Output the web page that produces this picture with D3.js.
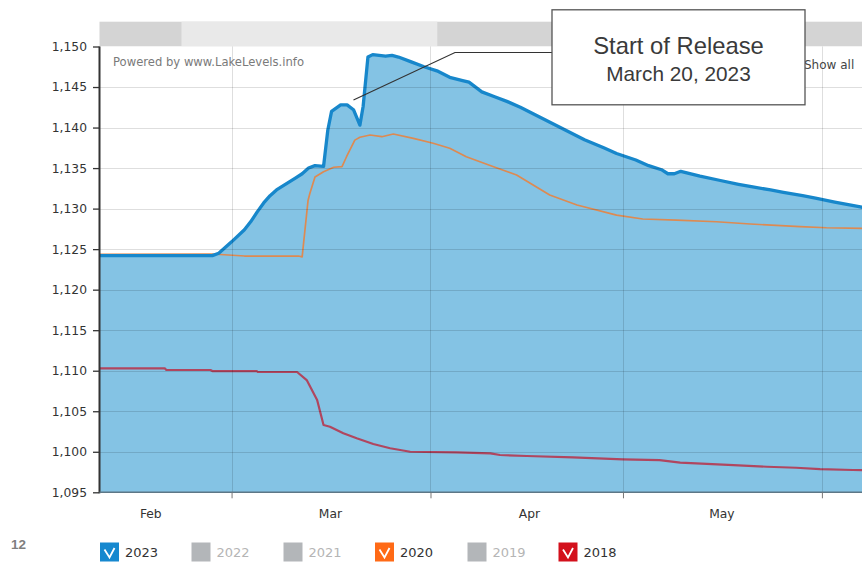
<!DOCTYPE html>
<html><head><meta charset="utf-8">
<script src="https://cdn.jsdelivr.net/npm/d3@7"></script>
<style>
html,body{margin:0;padding:0;background:#fff;}
svg{display:block;}
</style></head>
<body>
<svg id="chart" width="862" height="563"></svg>
<script>
// ---------------- DATA ----------------
const yTicks = [1095,1100,1105,1110,1115,1120,1125,1130,1135,1140,1145,1150];
const monthNames = ["Feb","Mar","Apr","May"];
const monthLabelDates = ["2023-02-16T08","2023-03-16T08","2023-04-16T08","2023-05-16T08"];
const monthTickDates = ["2023-03-01","2023-04-01","2023-05-01","2023-06-01"];

const dates2023 = ["2023-02-08","2023-02-26","2023-02-27","2023-03-01","2023-03-03","2023-03-04","2023-03-05","2023-03-06","2023-03-07","2023-03-08","2023-03-09","2023-03-11","2023-03-12","2023-03-13","2023-03-14","2023-03-15T08","2023-03-16","2023-03-16T14","2023-03-18","2023-03-19","2023-03-20","2023-03-21","2023-03-21T12","2023-03-22T06","2023-03-23","2023-03-24","2023-03-25","2023-03-26","2023-03-27","2023-03-29","2023-03-31","2023-04-02","2023-04-04","2023-04-06","2023-04-07","2023-04-09","2023-04-11","2023-04-13","2023-04-15","2023-04-18","2023-04-20","2023-04-23","2023-04-25","2023-04-28","2023-04-30","2023-05-03","2023-05-05","2023-05-07","2023-05-08","2023-05-09","2023-05-10","2023-05-13","2023-05-16","2023-05-19","2023-05-21","2023-05-24","2023-05-26","2023-05-29","2023-05-31","2023-06-03","2023-06-07","2023-06-09"];
const levels2023 = [1124.2,1124.2,1124.5,1125.9,1127.4,1128.4,1129.6,1130.7,1131.6,1132.3,1132.8,1133.8,1134.3,1135.0,1135.3,1135.2,1139.7,1142.0,1142.8,1142.8,1142.2,1140.3,1142.6,1148.7,1149.0,1148.9,1148.8,1148.9,1148.7,1148.1,1147.5,1147.0,1146.2,1145.8,1145.6,1144.4,1143.8,1143.2,1142.5,1141.3,1140.5,1139.3,1138.5,1137.5,1136.8,1136.0,1135.3,1134.8,1134.3,1134.3,1134.6,1134.0,1133.5,1133.0,1132.7,1132.3,1132.0,1131.6,1131.3,1130.8,1130.2,1129.9];

const dates2020 = ["2023-02-08","2023-02-26","2023-03-03","2023-03-11T10","2023-03-12","2023-03-12T22","2023-03-13T05","2023-03-14","2023-03-15T08","2023-03-16T22","2023-03-18T05","2023-03-18T22","2023-03-20T05","2023-03-21","2023-03-22T14","2023-03-24T10","2023-03-26T05","2023-03-29T08","2023-04-01T10","2023-04-04","2023-04-06T14","2023-04-10T20","2023-04-14T10","2023-04-19T14","2023-04-23T20","2023-04-30","2023-05-04T02","2023-05-09T08","2023-05-15T14","2023-05-20T20","2023-05-28T14","2023-06-01T17","2023-06-09"];
const levels2020 = [1124.35,1124.4,1124.15,1124.15,1124.05,1131.0,1131.9,1133.9,1134.55,1135.1,1135.17,1136.4,1138.45,1138.8,1139.08,1138.87,1139.2,1138.67,1138.06,1137.44,1136.4,1135.17,1134.15,1131.68,1130.44,1129.2,1128.72,1128.59,1128.38,1128.1,1127.77,1127.64,1127.55];

const dates2018 = ["2023-02-08","2023-02-18T14","2023-02-18T20","2023-02-25T17","2023-02-26","2023-03-04T22","2023-03-05T02","2023-03-11T05","2023-03-12T17","2023-03-14T08","2023-03-15T08","2023-03-16T08","2023-03-18T10","2023-03-20T12","2023-03-23T02","2023-03-25T17","2023-03-28T20","2023-04-05T02","2023-04-10T08","2023-04-11T20","2023-04-16","2023-04-23T05","2023-05-01","2023-05-06T17","2023-05-09T22","2023-05-18T05","2023-05-23T10","2023-05-28","2023-05-31T17","2023-06-05T20","2023-06-09"];
const levels2018 = [1110.3,1110.3,1110.09,1110.09,1109.96,1109.96,1109.84,1109.84,1108.85,1106.38,1103.3,1103.09,1102.28,1101.66,1100.96,1100.43,1100.0,1099.93,1099.81,1099.6,1099.48,1099.31,1099.07,1098.98,1098.65,1098.36,1098.15,1098.03,1097.87,1097.75,1097.7];

const legendYears = ["2023","2022","2021","2020","2019","2018"];
const legendActive = [true,false,false,true,false,true];

const annotationTitle = "Start of Release";
const annotationDate = "March 20, 2023";
const annotationPoint = "2023-03-20";

// ---------------- SETUP ----------------
(function(){
const pDay = d3.utcParse("%Y-%m-%d"), pHour = d3.utcParse("%Y-%m-%dT%H");
const parse = s => s.length > 10 ? pHour(s) : pDay(s);

const svg = d3.select("#chart");
const pLeft = 99.5, pRight = 862, pTop = 46.5, pBottom = 492.3;

const x = d3.scaleUtc()
  .domain([pHour("2023-02-08T10"), pHour("2023-06-07T06")])
  .range([pLeft, pRight]);
const y = d3.scaleLinear().domain([1095, 1150]).range([pBottom, pTop]);

const s2023 = dates2023.map((d,i)=>({d:parse(d), v:levels2023[i]}));
const s2020 = dates2020.map((d,i)=>({d:parse(d), v:levels2020[i]}));
const s2018 = dates2018.map((d,i)=>({d:parse(d), v:levels2018[i]}));

// scrollbar / navigator band
const sbY = 21.7, sbH = pTop - sbY;
svg.append("rect").attr("x", pLeft).attr("y", sbY).attr("width", pRight-pLeft).attr("height", sbH).attr("fill", "#d4d4d4");
svg.append("rect").attr("x", 181.5).attr("y", sbY).attr("width", 437.3-181.5).attr("height", sbH).attr("fill", "#e9e9e9");

// plot background
svg.append("defs").append("clipPath").attr("id","clip")
  .append("rect").attr("x", pLeft).attr("y", pTop).attr("width", pRight-pLeft).attr("height", pBottom-pTop);
svg.append("rect").attr("x", pLeft).attr("y", pTop).attr("width", pRight-pLeft).attr("height", pBottom-pTop).attr("fill","#fff");

const plot = svg.append("g").attr("clip-path","url(#clip)");

// area 2023
plot.append("path").datum(s2023)
  .attr("d", d3.area().x(d=>x(d.d)).y0(y(1095)).y1(d=>y(d.v)))
  .attr("fill", "#84c3e4");

// gridlines
const grid = svg.append("g");
grid.selectAll("line.h").data(yTicks.filter(t=>t>1095 && t<1150)).join("line")
  .attr("x1", pLeft).attr("x2", pRight).attr("y1", d=>Math.round(y(d))+0.5).attr("y2", d=>Math.round(y(d))+0.5)
  .attr("stroke", "rgba(0,0,0,0.13)").attr("stroke-width", 1);
grid.selectAll("line.v").data(monthTickDates).join("line")
  .attr("x1", d=>Math.round(x(parse(d)))+0.5).attr("x2", d=>Math.round(x(parse(d)))+0.5)
  .attr("y1", pTop).attr("y2", pBottom)
  .attr("stroke", "rgba(0,0,0,0.13)").attr("stroke-width", 1);

// watermark text
svg.append("text").attr("x", 113).attr("y", 66).text("Powered by www.LakeLevels.info")
  .attr("font-family","'DejaVu Sans', Verdana, sans-serif").attr("font-size", 11.6).attr("fill","#7a7a7a");

// lines
const line = d3.line().x(d=>x(d.d)).y(d=>y(d.v));
plot.append("path").datum(s2018).attr("d", line).attr("fill","none").attr("stroke","#b0465f").attr("stroke-width",2.2).attr("stroke-linejoin","round");
plot.append("path").datum(s2020).attr("d", line).attr("fill","none").attr("stroke","#dd8a52").attr("stroke-width",1.7).attr("stroke-linejoin","round");
plot.append("path").datum(s2023).attr("d", line).attr("fill","none").attr("stroke","#1787cb").attr("stroke-width",3.3).attr("stroke-linejoin","round");

// y axis
const yAxis = svg.append("g").attr("transform", `translate(${pLeft},0)`)
  .call(d3.axisLeft(y).tickValues(yTicks).tickFormat(d3.format(",")).tickSize(6.5).tickPadding(6));
yAxis.select(".domain").attr("stroke","#333").attr("stroke-width",2).attr("d", `M0,${pTop}V${pBottom+1}`);
yAxis.selectAll(".tick line").attr("stroke","#333").attr("stroke-width",1.3);
yAxis.selectAll(".tick text").attr("font-family","'DejaVu Sans', Verdana, sans-serif").attr("font-size",12.3).attr("fill","#333");

// x axis (month boundaries)
const xAxis = svg.append("g").attr("transform", `translate(0,${pBottom})`)
  .call(d3.axisBottom(x).tickValues(monthTickDates.map(parse)).tickFormat("").tickSize(6));
xAxis.select(".domain").attr("stroke","#5d7786").attr("stroke-width",1.4).attr("d", `M${pLeft},0H${pRight}`);
xAxis.selectAll(".tick line").attr("stroke","#777");

// month labels
const xLab = svg.append("g").attr("transform", `translate(0,${pBottom})`)
  .call(d3.axisBottom(x).tickValues(monthLabelDates.map(parse)).tickFormat((d,i)=>monthNames[i]).tickSize(0).tickPadding(17));
xLab.select(".domain").remove();
xLab.selectAll(".tick text").attr("font-family","'DejaVu Sans', Verdana, sans-serif").attr("font-size",12.3).attr("fill","#333");

// "Show all"
svg.append("text").attr("x", 804).attr("y", 68.5).text("Show all")
  .attr("font-family","'DejaVu Sans', Verdana, sans-serif").attr("font-size", 12).attr("fill","#444");

// annotation leader and box
const ax = x(parse(annotationPoint)), ay = 100;
svg.append("path").attr("d", `M${ax},${ay}L455,52.5H552`).attr("fill","none").attr("stroke","#333").attr("stroke-width",1.2);
svg.append("rect").attr("x", 552).attr("y", 9.8).attr("width", 253).attr("height", 95)
  .attr("fill","#fff").attr("stroke","#555").attr("stroke-width",1.3);
svg.append("text").attr("x", 678.5).attr("y", 53.5).attr("text-anchor","middle").text(annotationTitle)
  .attr("font-family","'Liberation Sans', Arial, sans-serif").attr("font-size", 23.8).attr("fill","#3a3a3a");
svg.append("text").attr("x", 678.5).attr("y", 80.5).attr("text-anchor","middle").text(annotationDate)
  .attr("font-family","'Liberation Sans', Arial, sans-serif").attr("font-size", 20.8).attr("fill","#3a3a3a");

// slide number
svg.append("text").attr("x", 11).attr("y", 549).text("12")
  .attr("font-family","'Liberation Sans', Arial, sans-serif").attr("font-weight","bold").attr("font-size", 13.5).attr("fill","#7f7f7f");

// legend
const legendX = [100, 191.5, 283.5, 375, 467.5, 558.5];
const legendColors = ["#1688cf","#b3b6b9","#b3b6b9","#ff6a16","#b3b6b9","#d3101c"];
const lg = svg.append("g");
legendYears.forEach((yr,i)=>{
  const g = lg.append("g").attr("transform", `translate(${legendX[i]},542.5)`);
  g.append("rect").attr("width",19).attr("height",19).attr("fill",legendColors[i]);
  if (legendActive[i]) {
    g.append("path").attr("d","M4.5,7 L9.5,15 L14.5,5.5").attr("fill","none").attr("stroke","#fff").attr("stroke-width",1.8);
  }
  g.append("text").attr("x",25).attr("y",14.8).text(yr)
    .attr("font-family","'DejaVu Sans', Verdana, sans-serif").attr("font-size",13)
    .attr("fill", legendActive[i] ? "#333" : "#b5b5b5");
});
})();
</script>
</body></html>
